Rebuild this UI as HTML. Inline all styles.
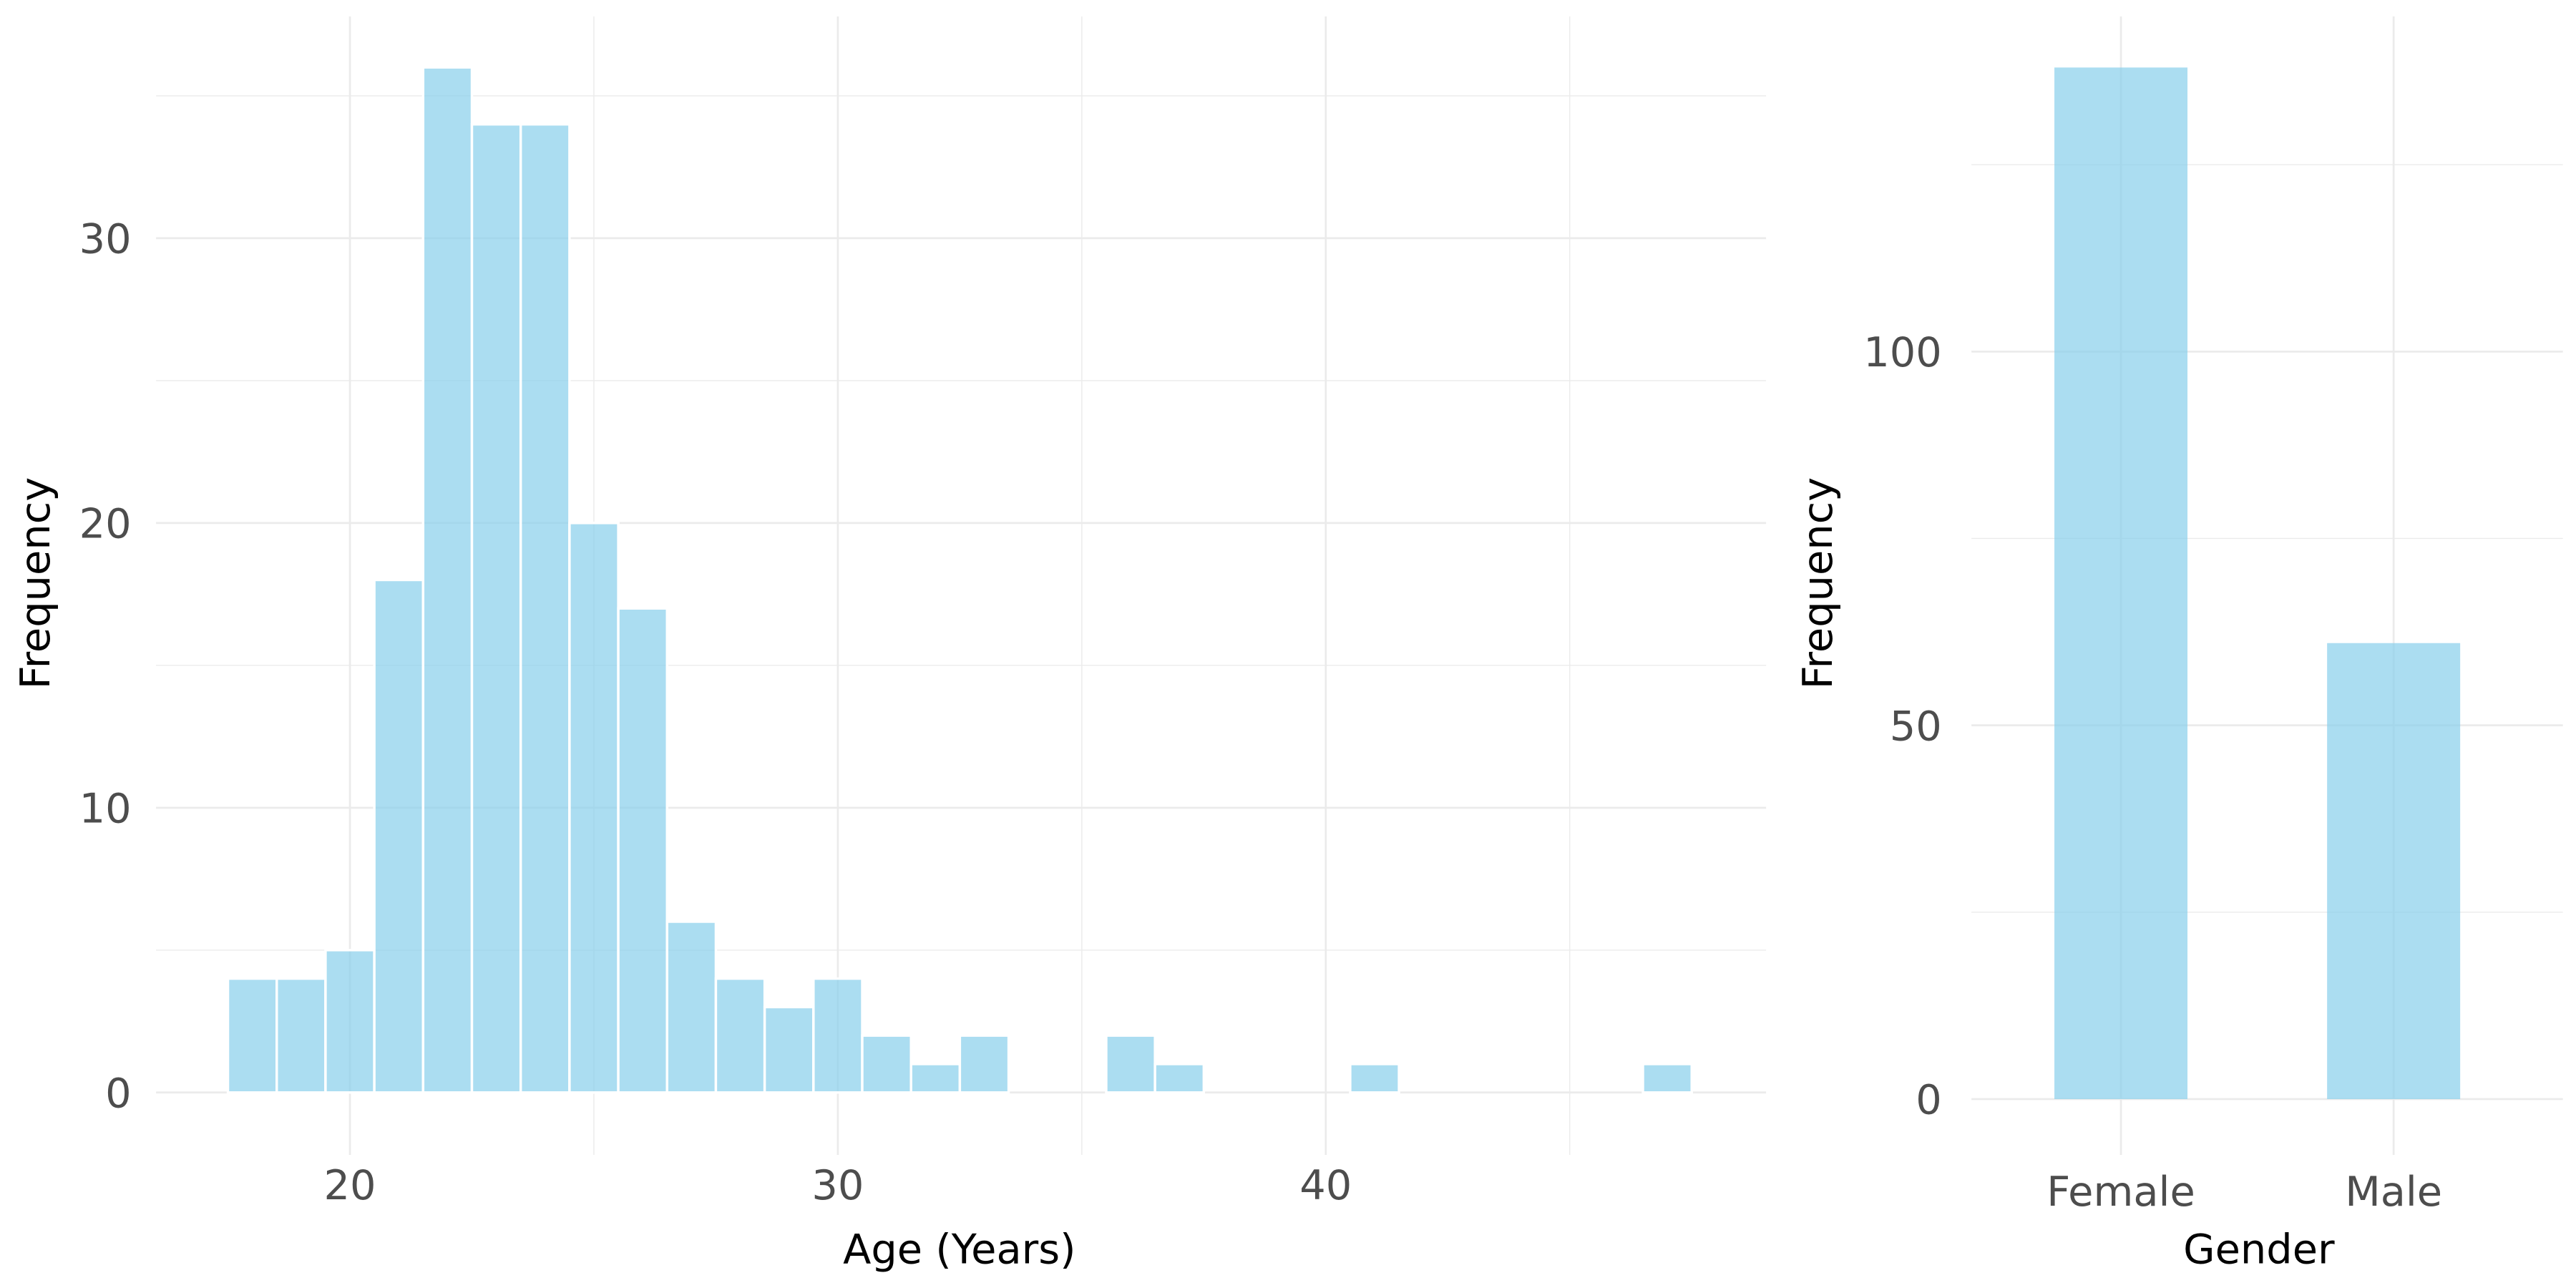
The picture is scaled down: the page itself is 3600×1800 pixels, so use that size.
<!DOCTYPE html>
<html><head><meta charset="utf-8"><style>
html,body{margin:0;padding:0;background:#fff;}
svg{display:block;font-family:"DejaVu Sans","Liberation Sans",sans-serif;}
</style></head><body>
<svg id="chart" width="3600" height="1800" viewBox="0 0 1568 784" xmlns="http://www.w3.org/2000/svg">
<g id="left"></g>
<g id="right"></g>
</svg>
<script>
const ageBins = [18,19,20,21,22,23,24,25,26,27,28,29,30,31,32,33,34,35,36,37,38,39,40,41,42,43,44,45,46,47];
const ageCounts = [4,4,5,18,36,34,34,20,17,6,4,3,4,2,1,2,0,0,2,1,0,0,0,1,0,0,0,0,0,1];
const ageXTicks = [20,30,40];
const ageXMinor = [25,35,45];
const ageYTicks = [0,10,20,30];
const ageYMinor = [5,15,25,35];
const genderCats = ["Female","Male"];
const genderCounts = [138,61];
const genderYTicks = [0,50,100];
const genderYMinor = [25,75,125];

const NS="http://www.w3.org/2000/svg";
function mk(parent,tag,attrs,text){const e=document.createElementNS(NS,tag);for(const k in attrs)e.setAttribute(k,attrs[k]);if(text!==undefined)e.textContent=text;parent.appendChild(e);return e;}
const FILL="#87CEEB", TICK="#4d4d4d", GRID="#ebebeb", FS=25;

// Left panel
const L=document.getElementById('left');
const lx=v=>213+(v-20)*29.7, ly=v=>665-v*17.333;
const lX0=95,lX1=1075,lY0=10,lY1=665+38;
ageYMinor.forEach(v=>{const e=mk(L,'line',{x1:lX0,x2:lX1,y1:ly(v),y2:ly(v),stroke:GRID,'stroke-width':0.6});
});
ageXMinor.forEach(v=>{const e=mk(L,'line',{x1:lx(v),x2:lx(v),y1:lY0,y2:lY1,stroke:GRID,'stroke-width':0.6});
});
ageYTicks.forEach(v=>{const e=mk(L,'line',{x1:lX0,x2:lX1,y1:ly(v),y2:ly(v),stroke:GRID,'stroke-width':1.2});

const t=mk(L,'text',{x:80,y:ly(v)+9,'text-anchor':'end','font-size':FS,fill:TICK},String(v));
});
ageXTicks.forEach(v=>{const e=mk(L,'line',{x1:lx(v),x2:lx(v),y1:lY0,y2:lY1,stroke:GRID,'stroke-width':1.2});

const t=mk(L,'text',{x:lx(v),y:730,'text-anchor':'middle','font-size':FS,fill:TICK},String(v));
});
ageBins.forEach((b,i)=>{const c=ageCounts[i];
const r=mk(L,'rect',{x:lx(b-0.5),y:ly(c),width:29.7,height:Math.max(ly(0)-ly(c),0),fill:FILL,'fill-opacity':0.7,stroke:'#fff','stroke-width':1.5});
});
let t1=mk(L,'text',{x:584,y:769,'text-anchor':'middle','font-size':FS,fill:'#000'},'Age (Years)');

let t2=mk(L,'text',{x:30,y:355,'text-anchor':'middle','font-size':FS,fill:'#000',transform:'rotate(-90 30 355)'},'Frequency');


// Right panel
const R=document.getElementById('right');
const rx=i=>1291+i*166, ry=v=>669-v*4.55;
const rX0=1200,rX1=1560;
genderYMinor.forEach(v=>{const e=mk(R,'line',{x1:rX0,x2:rX1,y1:ry(v),y2:ry(v),stroke:GRID,'stroke-width':0.6});
});
genderYTicks.forEach(v=>{const e=mk(R,'line',{x1:rX0,x2:rX1,y1:ry(v),y2:ry(v),stroke:GRID,'stroke-width':1.2});

const t=mk(R,'text',{x:1182,y:ry(v)+9,'text-anchor':'end','font-size':FS,fill:TICK},String(v));
});
genderCats.forEach((c,i)=>{const e=mk(R,'line',{x1:rx(i),x2:rx(i),y1:lY0,y2:lY1,stroke:GRID,'stroke-width':1.2});

const r=mk(R,'rect',{x:rx(i)-40.5,y:ry(genderCounts[i]),width:81,height:ry(0)-ry(genderCounts[i]),fill:FILL,'fill-opacity':0.7});

const t=mk(R,'text',{x:rx(i),y:734,'text-anchor':'middle','font-size':FS,fill:TICK},c);
});
let t3=mk(R,'text',{x:1375,y:769,'text-anchor':'middle','font-size':FS,fill:'#000'},'Gender');

let t4=mk(R,'text',{x:1115,y:355,'text-anchor':'middle','font-size':FS,fill:'#000',transform:'rotate(-90 1115 355)'},'Frequency');

</script>
</body></html>
